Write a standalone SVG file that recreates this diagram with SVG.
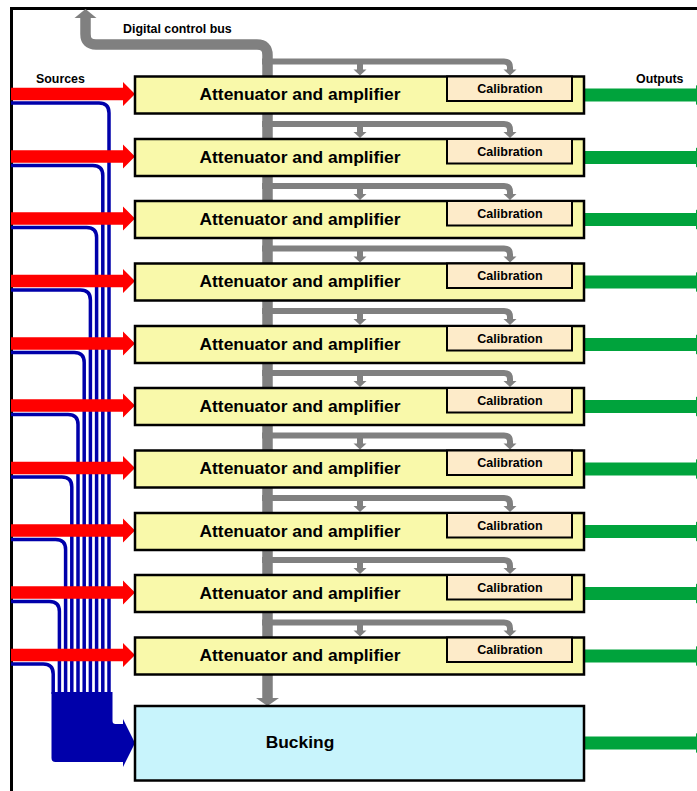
<svg xmlns="http://www.w3.org/2000/svg" xmlns:xlink="http://www.w3.org/1999/xlink" width="697" height="791" viewBox="0 0 697 791">
<style>
text{font-family:"Liberation Sans",Arial,sans-serif;font-weight:bold;fill:#000}
.att{fill:#f9f9aa;stroke:#000;stroke-width:2.5}
.cal{fill:#fdebc9;stroke:#000;stroke-width:2}
.buck{fill:#c8f4fc;stroke:#000;stroke-width:2.5}
.t1{font-size:17.4px;text-anchor:middle}
.t2{font-size:12.5px;text-anchor:middle}
.red{fill:#ff0000}
.grn{fill:#00a33c}
.blue{fill:none;stroke:#0000aa;stroke-width:3.5}
.gbus{fill:none;stroke:#808080;stroke-width:10.5}
.gbr{fill:none;stroke:#808080;stroke-width:6}
.gh{fill:#808080}
</style>
<defs>
<g id="redarrow"><polygon class="red" points="11,-6.2 123,-6.2 123,-12 135,0 123,12 123,6.2 11,6.2"/></g>
<g id="grnarrow"><polygon class="grn" points="584,-6.5 696,-6.5 696,-10 708,0 696,10 696,6.5 584,6.5"/></g>
<g id="branch">
<path class="gbr" d="M262,0 H504 Q510,0 510,6 V9"/>
<path class="gbr" d="M360,0 V9"/>
<polygon class="gh" points="353.5,8 366.5,8 360,14"/>
<polygon class="gh" points="503.5,8 516.5,8 510,14"/>
</g>
<g id="att">
<rect class="att" x="135" y="0" width="449" height="37"/>
<rect class="cal" x="447" y="0" width="125" height="24.5"/>
<text class="t1" x="300" y="23.5">Attenuator and amplifier</text>
<text class="t2" x="510" y="16.5">Calibration</text>
</g>
</defs>
<rect width="697" height="791" fill="#fff"/>
<path d="M11.5,791 V8.5 H697" fill="none" stroke="#000" stroke-width="3"/>
<text x="123" y="33" style="font-size:12.4px">Digital control bus</text>
<text x="36" y="83" style="font-size:12.4px">Sources</text>
<text x="636" y="83" style="font-size:12.4px">Outputs</text>
<g id="connectors">
<g id="bus">
<path class="gbus" d="M85.5,17 V34 Q85.5,44.5 96,44.5 H257 Q267.5,44.5 267.5,55 V699"/>
<polygon class="gh" points="74.5,18 96.5,18 85.5,9"/>
<polygon class="gh" points="256,698 279,698 267.5,706"/>
<use xlink:href="#branch" transform="translate(0,61.5)"/>
<use xlink:href="#branch" transform="translate(0,124)"/>
<use xlink:href="#branch" transform="translate(0,186)"/>
<use xlink:href="#branch" transform="translate(0,248.5)"/>
<use xlink:href="#branch" transform="translate(0,311)"/>
<use xlink:href="#branch" transform="translate(0,373)"/>
<use xlink:href="#branch" transform="translate(0,435.5)"/>
<use xlink:href="#branch" transform="translate(0,498)"/>
<use xlink:href="#branch" transform="translate(0,560)"/>
<use xlink:href="#branch" transform="translate(0,622.5)"/>
</g>
<g id="bucking-lines">
<path class="blue" d="M11,103 H99 Q109,103 109,113 V694"/>
<path class="blue" d="M11,165.5 H92.8 Q102.8,165.5 102.8,175.5 V694"/>
<path class="blue" d="M11,227.5 H86.6 Q96.6,227.5 96.6,237.5 V694"/>
<path class="blue" d="M11,290 H80.4 Q90.4,290 90.4,300 V694"/>
<path class="blue" d="M11,352.5 H74.2 Q84.2,352.5 84.2,362.5 V694"/>
<path class="blue" d="M11,414.5 H68 Q78,414.5 78,424.5 V694"/>
<path class="blue" d="M11,477 H61.8 Q71.8,477 71.8,487 V694"/>
<path class="blue" d="M11,539.5 H55.6 Q65.6,539.5 65.6,549.5 V694"/>
<path class="blue" d="M11,601.5 H49.4 Q59.4,601.5 59.4,611.5 V694"/>
<path class="blue" d="M11,664 H43.2 Q53.2,664 53.2,674 V694"/>
<path d="M51.5,692 H112.5 V721 Q112.5,724 115.5,724 H123 V719 L135,743 L123,767 V762 H55.5 Q51.5,762 51.5,758 Z" fill="#0000aa"/>
</g>
<g id="sources">
<use xlink:href="#redarrow" transform="translate(0,94)"/>
<use xlink:href="#redarrow" transform="translate(0,156.5)"/>
<use xlink:href="#redarrow" transform="translate(0,218.5)"/>
<use xlink:href="#redarrow" transform="translate(0,281)"/>
<use xlink:href="#redarrow" transform="translate(0,343.5)"/>
<use xlink:href="#redarrow" transform="translate(0,405.5)"/>
<use xlink:href="#redarrow" transform="translate(0,468)"/>
<use xlink:href="#redarrow" transform="translate(0,530.5)"/>
<use xlink:href="#redarrow" transform="translate(0,592.5)"/>
<use xlink:href="#redarrow" transform="translate(0,655)"/>
</g>
<g id="outputs">
<use xlink:href="#grnarrow" transform="translate(0,95)"/>
<use xlink:href="#grnarrow" transform="translate(0,157.5)"/>
<use xlink:href="#grnarrow" transform="translate(0,219.5)"/>
<use xlink:href="#grnarrow" transform="translate(0,282)"/>
<use xlink:href="#grnarrow" transform="translate(0,344.5)"/>
<use xlink:href="#grnarrow" transform="translate(0,406.5)"/>
<use xlink:href="#grnarrow" transform="translate(0,469)"/>
<use xlink:href="#grnarrow" transform="translate(0,531.5)"/>
<use xlink:href="#grnarrow" transform="translate(0,593.5)"/>
<use xlink:href="#grnarrow" transform="translate(0,656)"/>
<use xlink:href="#grnarrow" transform="translate(0,743)"/>
</g>
</g>
<g id="att1"><use xlink:href="#att" transform="translate(0,76.5)"/></g>
<g id="att2"><use xlink:href="#att" transform="translate(0,139)"/></g>
<g id="att3"><use xlink:href="#att" transform="translate(0,201)"/></g>
<g id="att4"><use xlink:href="#att" transform="translate(0,263.5)"/></g>
<g id="att5"><use xlink:href="#att" transform="translate(0,326)"/></g>
<g id="att6"><use xlink:href="#att" transform="translate(0,388)"/></g>
<g id="att7"><use xlink:href="#att" transform="translate(0,450.5)"/></g>
<g id="att8"><use xlink:href="#att" transform="translate(0,513)"/></g>
<g id="att9"><use xlink:href="#att" transform="translate(0,575)"/></g>
<g id="att10"><use xlink:href="#att" transform="translate(0,637.5)"/></g>
<g id="bucking">
<rect class="buck" x="135" y="706" width="449" height="74.5"/>
<text class="t1" x="300" y="748">Bucking</text>
</g>
</svg>
